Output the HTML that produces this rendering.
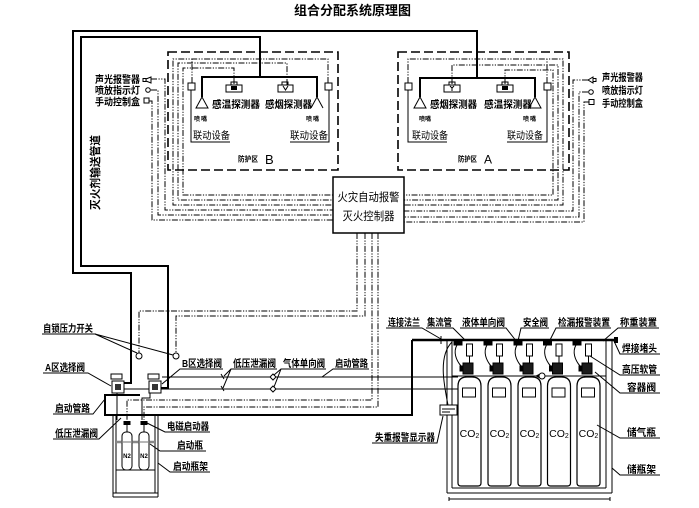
<!DOCTYPE html>
<html><head><meta charset="utf-8"><style>
html,body{margin:0;padding:0;background:#fff;}
svg{display:block;}
text{font-family:"Liberation Sans","Noto Sans CJK SC",sans-serif;fill:#000;}
.p{fill:none;stroke:#000;stroke-width:2}
.t{fill:none;stroke:#000;stroke-width:1}
.dd{fill:none;stroke:#000;stroke-width:1;stroke-dasharray:6 1.5 1.2 1.5 1.2 1.5}
.zb{fill:none;stroke:#000;stroke-width:1.6;stroke-dasharray:9 4}
.lb{font-size:10px;font-weight:bold}
</style></head><body>
<svg width="699" height="508" viewBox="0 0 699 508" xmlns="http://www.w3.org/2000/svg">
<rect width="699" height="508" fill="#fff"/>
<text x="352.5" y="15" text-anchor="middle" font-size="13" font-weight="bold">组合分配系统原理图</text>

<!-- zone dashed borders -->
<rect class="zb" x="168" y="52" width="170" height="118"/>
<rect class="zb" x="398" y="52" width="171" height="118"/>

<!-- main agent pipes -->
<path class="p" d="M124,383 H131 V273 H73 V31 H477 V78"/>
<path class="p" d="M161,388 H168 V266 H81 V37 H260 V77"/>
<path class="p" d="M202,97 V77 H317 V97"/>
<path class="p" d="M420,97 V78 H535 V97"/>

<!-- zone B wiring -->
<path class="dd" d="M328,83 V59 H173 V205 H333"/>
<path class="dd" d="M287,85 V63 H178 V200 H333"/>
<path class="dd" d="M234,84 V68 H183 V195 H333"/>
<path class="dd" d="M192,83 V59"/>
<path class="dd" d="M151,79 H165 V210 H333"/>
<path class="dd" d="M151,90 H158 V215 H333"/>
<path class="dd" d="M149,101 H152 V220 H333"/>

<!-- zone A wiring -->
<path class="dd" d="M408,83 V59 H563 V205 H404"/>
<path class="dd" d="M452,84 V65 H558 V200 H404"/>
<path class="dd" d="M505,84 V70 H553 V195 H404"/>
<path class="dd" d="M547,83 V59"/>
<path class="dd" d="M588,80 H573 V211 H404"/>
<path class="dd" d="M588,92 H579 V217 H404"/>
<path class="dd" d="M589,102 H584 V222 H404"/>

<!-- controller down lines -->
<path class="dd" d="M357,233 V311 H139 V353"/>
<path class="dd" d="M365,233 V316 H176 V353"/>
<path class="dd" d="M372,233 V400 H127 V420"/>
<path class="dd" d="M378,233 V407 H144 V420"/>

<!-- zone B devices -->
<rect class="t" x="188" y="83" width="7" height="7" fill="#fff"/>
<rect class="t" x="325" y="83" width="7" height="7" fill="#fff"/>
<path class="t" d="M191,90 V142 H230 M329,90 V142 H290"/>
<rect class="t" x="231" y="82" width="6" height="3"/>
<rect class="t" x="226" y="85" width="16" height="7" fill="#fff"/>
<rect x="231" y="86" width="6" height="4" fill="#000"/>
<rect class="t" x="282" y="82" width="6" height="3"/>
<rect class="t" x="278" y="85" width="15" height="7" fill="#fff"/>
<path class="t" d="M283,86 L285.5,90 L288,86"/>
<polygon points="202,97 196,108 208,108" fill="#fff" stroke="#000" stroke-width="1"/>
<polyline points="311,108 317,97 323,108" fill="none" stroke="#000" stroke-width="1"/>

<!-- zone A devices -->
<rect class="t" x="405" y="83" width="7" height="7" fill="#fff"/>
<rect class="t" x="544" y="83" width="7" height="7" fill="#fff"/>
<path class="t" d="M408,90 V142 H447 M547,90 V142 H507"/>
<rect class="t" x="449" y="82" width="6" height="3"/>
<rect class="t" x="444" y="85" width="16" height="7" fill="#fff"/>
<path class="t" d="M450,86 L452,88 L454,86 M452,88 V91"/>
<rect class="t" x="502" y="82" width="6" height="3"/>
<rect class="t" x="497" y="85" width="16" height="7" fill="#fff"/>
<rect x="502" y="86" width="6" height="4" fill="#000"/>
<polygon points="420,97 414,108 426,108" fill="#fff" stroke="#000" stroke-width="1"/>
<polygon points="535,97 529,108 541,108" fill="#fff" stroke="#000" stroke-width="1"/>

<!-- side devices -->
<path class="t" d="M151,77 L146,79 V81 L151,83 Z"/>
<rect class="t" x="143" y="78.5" width="3" height="3"/>
<circle class="t" cx="148" cy="90" r="2.3" fill="#fff"/>
<rect class="t" x="144" y="98" width="5" height="5" fill="#fff"/>
<path class="t" d="M588,80 L593,77 V83 Z"/>
<rect class="t" x="593" y="78.5" width="3" height="3"/>
<circle class="t" cx="591" cy="92" r="2.3" fill="#fff"/>
<rect class="t" x="589" y="99.5" width="5" height="5" fill="#fff"/>

<text class="lb" x="95" y="83" font-size="9.5" textLength="45" lengthAdjust="spacingAndGlyphs">声光报警器</text>
<text class="lb" x="95" y="94" font-size="9.5" textLength="45" lengthAdjust="spacingAndGlyphs">喷放指示灯</text>
<text class="lb" x="95" y="105.5" font-size="9.5" textLength="45" lengthAdjust="spacingAndGlyphs">手动控制盒</text>
<text class="lb" x="602" y="81" font-size="9.5" textLength="41" lengthAdjust="spacingAndGlyphs">声光报警器</text>
<text class="lb" x="602" y="94" font-size="9.5" textLength="41" lengthAdjust="spacingAndGlyphs">喷放指示灯</text>
<text class="lb" x="602" y="107" font-size="9.5" textLength="41" lengthAdjust="spacingAndGlyphs">手动控制盒</text>

<!-- zone texts -->
<text class="lb" x="212" y="108" textLength="48" lengthAdjust="spacingAndGlyphs">感温探测器</text>
<text class="lb" x="265" y="108" textLength="47" lengthAdjust="spacingAndGlyphs">感烟探测器</text>
<text class="lb" x="430" y="108" textLength="47" lengthAdjust="spacingAndGlyphs">感烟探测器</text>
<text class="lb" x="484" y="108" textLength="48" lengthAdjust="spacingAndGlyphs">感温探测器</text>
<text x="194" y="121" font-size="6" font-weight="bold" textLength="13" lengthAdjust="spacing">喷嘴</text>
<text x="306" y="121" font-size="6" font-weight="bold" textLength="13" lengthAdjust="spacing">喷嘴</text>
<text x="419" y="121" font-size="6" font-weight="bold" textLength="12" lengthAdjust="spacing">喷嘴</text>
<text x="523" y="121" font-size="6" font-weight="bold" textLength="13" lengthAdjust="spacing">喷嘴</text>
<text x="193" y="139" font-size="10" textLength="37" lengthAdjust="spacingAndGlyphs">联动设备</text>
<text x="290" y="139" font-size="10" textLength="38" lengthAdjust="spacingAndGlyphs">联动设备</text>
<text x="412" y="139" font-size="10" textLength="36" lengthAdjust="spacingAndGlyphs">联动设备</text>
<text x="507" y="139" font-size="10" textLength="36" lengthAdjust="spacingAndGlyphs">联动设备</text>
<text x="238" y="161.5" font-size="7.5" font-weight="bold" textLength="20" lengthAdjust="spacingAndGlyphs">防护区</text>
<text x="265" y="164" font-size="13">B</text>
<text x="458" y="161.5" font-size="7.5" font-weight="bold" textLength="19" lengthAdjust="spacingAndGlyphs">防护区</text>
<text x="484" y="163.5" font-size="12">A</text>

<text transform="translate(99,210) rotate(-90)" font-size="11" font-weight="bold" textLength="75" lengthAdjust="spacingAndGlyphs">灭火剂输送管道</text>

<!-- controller -->
<rect x="333" y="177" width="71" height="56" fill="#fff" stroke="#000" stroke-width="1.5"/>
<text x="368.5" y="201" text-anchor="middle" font-size="11.5" textLength="62" lengthAdjust="spacingAndGlyphs">火灾自动报警</text>
<text x="368.5" y="220" text-anchor="middle" font-size="11.5" textLength="52" lengthAdjust="spacingAndGlyphs">灭火控制器</text>

<!-- main pipes -->
<path class="t" stroke-width="1.6" d="M162,377 H458 M124,389 H458"/>
<path class="p" d="M140,395 H105 V415 H412 V340"/>
<path fill="none" stroke="#000" stroke-width="2.4" d="M412,340 H618"/>

<!-- pressure switches -->
<circle cx="139" cy="356" r="3" fill="#fff" stroke="#000"/>
<circle cx="176" cy="356" r="3" fill="#fff" stroke="#000"/>

<!-- leak valves marks / check valves -->
<path class="t" d="M221,374 L224,379 M221,386 L224,391"/>
<path d="M273,374 L276,377 L273,380 L270,377 Z M273,386 L276,389 L273,392 L270,389 Z" fill="#fff" stroke="#000"/>

<!-- selector valves -->
<rect class="t" x="111" y="374" width="11" height="5" fill="#fff"/>
<rect x="112" y="381" width="12" height="12" fill="#fff" stroke="#000"/>
<rect x="115" y="384" width="6" height="6" fill="#333"/>
<rect class="t" x="148" y="374" width="11" height="5" fill="#fff"/>
<rect x="149" y="381" width="12" height="12" fill="#fff" stroke="#000"/>
<rect x="152" y="384" width="6" height="6" fill="#333"/>
<path class="t" d="M117,393 V420 M150,393 V398 H142 V420"/>

<!-- N2 rack -->
<path class="t" d="M113,415 V497 M116,415 V493 M155,415 V493 M158,415 V497 M113,493 H158 M113,497 H158 M116,470 H155"/>
<line x1="116" y1="442" x2="155" y2="442" stroke="#888" stroke-width="2.5"/>
<rect x="122" y="432" width="10" height="38" rx="4" fill="#fff" stroke="#000"/>
<rect x="139" y="432" width="10" height="38" rx="4" fill="#fff" stroke="#000"/>
<line x1="116" y1="442" x2="155" y2="442" stroke="#888" stroke-width="2" opacity="0.6"/>
<rect x="123.5" y="421" width="7" height="4" fill="#000"/>
<rect x="140.5" y="421" width="7" height="4" fill="#000"/>
<path class="t" d="M127,425 V432 M144,425 V432"/>
<text x="127" y="458" text-anchor="middle" font-size="6" font-weight="bold">N2</text>
<text x="144" y="458" text-anchor="middle" font-size="6" font-weight="bold">N2</text>

<!-- CO2 rack -->
<path class="t" stroke-width="1.2" d="M447,340 V493 M452,340 V488 M606,340 V488 M612,340 V493 M452,488 H606 M447,493 H612 M452,376 H606"/>
<path class="t" d="M449,499 H610 M449,497 V501 M610,497 V501"/>

<g id="cyl">
<path d="M458,386 Q458,377 467,377 H472 Q481,377 481,386 V483 Q481,486 478,486 H461 Q458,486 458,483 Z" fill="#fff" stroke="#000" stroke-width="1.2"/>
</g>
<path d="M488,386 Q488,377 497,377 H502 Q511,377 511,386 V483 Q511,486 508,486 H491 Q488,486 488,483 Z" fill="#fff" stroke="#000" stroke-width="1.2"/>
<path d="M518,386 Q518,377 527,377 H532 Q541,377 541,386 V483 Q541,486 538,486 H521 Q518,486 518,483 Z" fill="#fff" stroke="#000" stroke-width="1.2"/>
<path d="M547.5,386 Q547.5,377 556.5,377 H561.5 Q570.5,377 570.5,386 V483 Q570.5,486 567.5,486 H550.5 Q547.5,486 547.5,483 Z" fill="#fff" stroke="#000" stroke-width="1.2"/>
<path d="M577,386 Q577,377 586,377 H591 Q600,377 600,386 V483 Q600,486 597,486 H580 Q577,486 577,483 Z" fill="#fff" stroke="#000" stroke-width="1.2"/>

<g fill="#fff" stroke="#000" stroke-width="1">
<rect x="462.5" y="388" width="13" height="9"/>
<rect x="492.5" y="388" width="13" height="9"/>
<rect x="522.5" y="388" width="13" height="9"/>
<rect x="552" y="388" width="13" height="9"/>
<rect x="581.5" y="388" width="13" height="9"/>
</g>
<g font-size="10.5" text-anchor="middle">
<text x="469.5" y="437">CO<tspan font-size="7" dy="1">2</tspan></text>
<text x="499.5" y="437">CO<tspan font-size="7" dy="1">2</tspan></text>
<text x="529.5" y="437">CO<tspan font-size="7" dy="1">2</tspan></text>
<text x="559" y="437">CO<tspan font-size="7" dy="1">2</tspan></text>
<text x="588.5" y="437">CO<tspan font-size="7" dy="1">2</tspan></text>
</g>

<!-- valve stacks -->
<g stroke="#000" stroke-width="1">
<rect x="466.5" y="344" width="6" height="12" fill="#fff"/><rect x="454" y="341" width="8" height="4" fill="#000"/><path fill="none" d="M457,345 C453,352 456,360 461,366 M469.5,356 V363"/><rect x="463" y="363" width="10" height="11" fill="#1a1a1a"/><rect x="460" y="366" width="3" height="5" fill="#000"/>
<rect x="496.5" y="344" width="6" height="12" fill="#fff"/><rect x="484" y="341" width="8" height="4" fill="#000"/><path fill="none" d="M487,345 C483,352 486,360 491,366 M499.5,356 V363"/><rect x="493" y="363" width="10" height="11" fill="#1a1a1a"/><rect x="490" y="366" width="3" height="5" fill="#000"/>
<rect x="526.5" y="344" width="6" height="12" fill="#fff"/><rect x="514" y="341" width="8" height="4" fill="#000"/><path fill="none" d="M517,345 C513,352 516,360 521,366 M529.5,356 V363"/><rect x="523" y="363" width="10" height="11" fill="#1a1a1a"/><rect x="520" y="366" width="3" height="5" fill="#000"/>
<rect x="556" y="344" width="6" height="12" fill="#fff"/><rect x="543.5" y="341" width="8" height="4" fill="#000"/><path fill="none" d="M546.5,345 C542.5,352 545.5,360 550.5,366 M559,356 V363"/><rect x="552.5" y="363" width="10" height="11" fill="#1a1a1a"/><rect x="549.5" y="366" width="3" height="5" fill="#000"/>
<rect x="585.5" y="344" width="6" height="12" fill="#fff"/><rect x="573" y="341" width="8" height="4" fill="#000"/><path fill="none" d="M576,345 C572,352 575,360 580,366 M588.5,356 V363"/><rect x="582" y="363" width="10" height="11" fill="#1a1a1a"/><rect x="579" y="366" width="3" height="5" fill="#000"/>
</g>
<rect x="614" y="337" width="4" height="6" fill="#000"/>
<path class="t" d="M441,336 V344"/>

<!-- safety valve symbol -->
<circle cx="542" cy="376" r="3" fill="#fff" stroke="#000"/>
<path d="M535,376 L539,374 V378 Z" fill="#000"/>

<!-- weight loss alarm display -->
<path class="t" d="M448,405 C444,385 438,356 452,342"/>
<rect x="440" y="405" width="17" height="10" fill="#fff" stroke="#000"/>
<path class="t" d="M442,409 H455 M442,412 H450"/>

<!-- left labels -->
<text class="lb" x="43" y="332" textLength="50" lengthAdjust="spacingAndGlyphs">自锁压力开关</text>
<path class="t" d="M42,334 H95 L137,353 M95,334 L173,355"/>
<text class="lb" x="182" y="367" textLength="40" lengthAdjust="spacingAndGlyphs">B区选择阀</text>
<path class="t" d="M223,369 H180 L162,384"/>
<text class="lb" x="233" y="367" textLength="43" lengthAdjust="spacingAndGlyphs">低压泄漏阀</text>
<path class="t" d="M277,369 H231 L224,376 M231,369 L223,388"/>
<text class="lb" x="283" y="367" textLength="42" lengthAdjust="spacingAndGlyphs">气体单向阀</text>
<path class="t" d="M326,369 H281 L274,375 M281,369 L274,387"/>
<text class="lb" x="335" y="367" textLength="33" lengthAdjust="spacingAndGlyphs">启动管路</text>
<path class="t" d="M369,369 H333 L322,377"/>
<text class="lb" x="45" y="371" textLength="40" lengthAdjust="spacingAndGlyphs">A区选择阀</text>
<path class="t" d="M43,373 H88 L111,386"/>
<text class="lb" x="55" y="412" textLength="35" lengthAdjust="spacingAndGlyphs">启动管路</text>
<path class="t" d="M53,414 H93 L105,399"/>
<text class="lb" x="55" y="437" textLength="43" lengthAdjust="spacingAndGlyphs">低压泄漏阀</text>
<path class="t" d="M53,439 H99 L121,418"/>
<text class="lb" x="167" y="430" textLength="42" lengthAdjust="spacingAndGlyphs">电磁启动器</text>
<path class="t" d="M210,432 H165 L147,423"/>
<text class="lb" x="177" y="449" textLength="26" lengthAdjust="spacingAndGlyphs">启动瓶</text>
<path class="t" d="M206,451 H160 L150,444"/>
<text class="lb" x="173" y="470" textLength="35" lengthAdjust="spacingAndGlyphs">启动瓶架</text>
<path class="t" d="M210,472 H170 L158,463"/>

<!-- right labels -->
<text class="lb" x="388" y="326" textLength="32" lengthAdjust="spacingAndGlyphs">连接法兰</text>
<path class="t" d="M386,328 H422 L441,339"/>
<text class="lb" x="427" y="326" textLength="25" lengthAdjust="spacingAndGlyphs">集流管</text>
<path class="t" d="M426,328 H453 L465,340"/>
<text class="lb" x="462" y="326" textLength="43" lengthAdjust="spacingAndGlyphs">液体单向阀</text>
<path class="t" d="M460,328 H506 L517,342"/>
<text class="lb" x="523" y="326" textLength="25" lengthAdjust="spacingAndGlyphs">安全阀</text>
<path class="t" d="M549,328 H521 L518,341"/>
<text class="lb" x="558" y="326" textLength="52" lengthAdjust="spacingAndGlyphs">检漏报警装置</text>
<path class="t" d="M611,328 H556 L549,342"/>
<text class="lb" x="620" y="326" textLength="37" lengthAdjust="spacingAndGlyphs">称重装置</text>
<path class="t" d="M659,328 H618 L603,341"/>
<text class="lb" x="622" y="352" textLength="35" lengthAdjust="spacingAndGlyphs">焊接堵头</text>
<path class="t" d="M660,354 H620 L614,341"/>
<text class="lb" x="622" y="373" textLength="35" lengthAdjust="spacingAndGlyphs">高压软管</text>
<path class="t" d="M660,375 H620 L590,356"/>
<text class="lb" x="627" y="391" textLength="29" lengthAdjust="spacingAndGlyphs">容器阀</text>
<path class="t" d="M660,393 H620 L595,372"/>
<text class="lb" x="627" y="436" textLength="29" lengthAdjust="spacingAndGlyphs">储气瓶</text>
<path class="t" d="M660,438 H620 L597,425"/>
<text class="lb" x="627" y="473" textLength="29" lengthAdjust="spacingAndGlyphs">储瓶架</text>
<path class="t" d="M660,475 H620 L612,468"/>
<text class="lb" x="375" y="441" textLength="60" lengthAdjust="spacingAndGlyphs">失重报警显示器</text>
<path class="t" d="M372,443 H437 L443,416"/>
</svg>
</body></html>
